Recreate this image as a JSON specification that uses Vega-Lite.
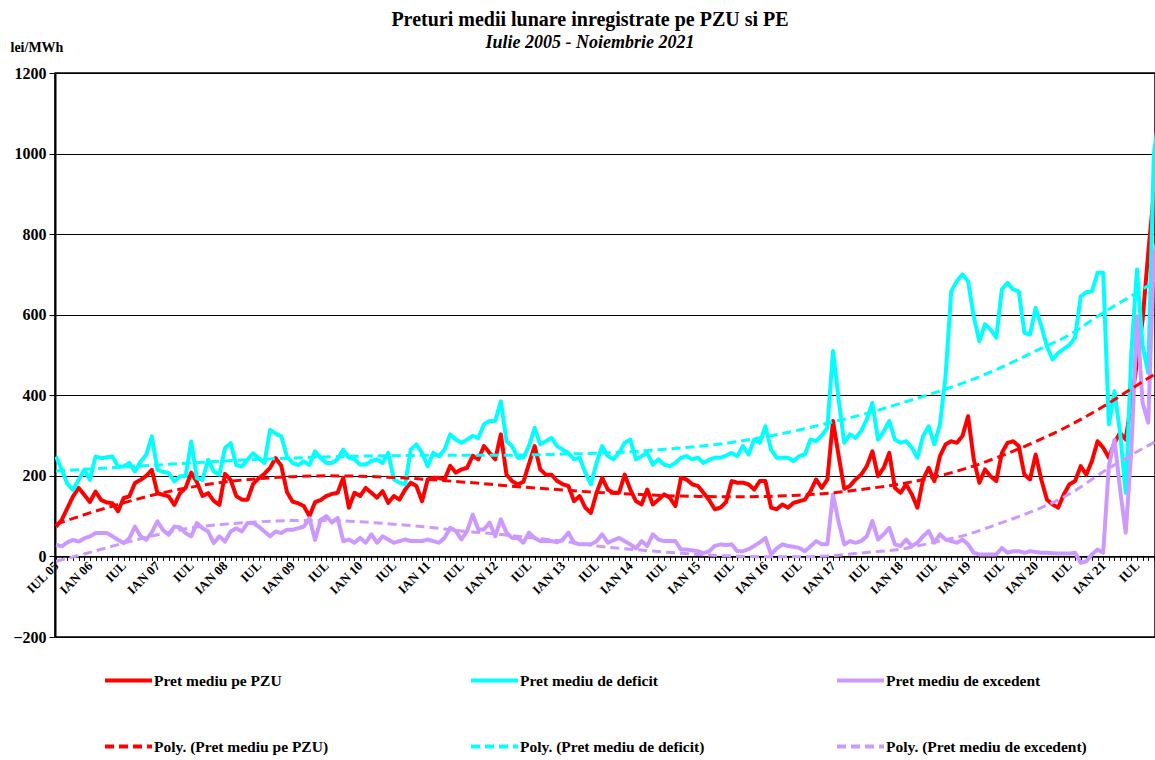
{
"$schema": "https://vega.github.io/schema/vega-lite/v6.json",
"width": 1100, "height": 564,
"autosize": {"type": "none"},
"padding": {"left": 55, "top": 73, "right": 0, "bottom": 123},
"background": "white",
"title": {"text": "Preturi medii lunare inregistrate pe PZU si PE", "subtitle": "Iulie 2005 - Noiembrie 2021", "font": "Liberation Serif", "fontSize": 20, "fontWeight": "bold", "color": "#000", "subtitleFont": "Liberation Serif", "subtitleFontSize": 18, "subtitleFontWeight": "bold", "subtitleFontStyle": "italic", "subtitleColor": "#000", "anchor": "middle", "frame": "group", "dx": -15, "offset": -12, "subtitlePadding": 4},
"datasets": {
"lunar": [
{"m":0,"a":74,"b":248,"c":29},{"m":1,"a":91,"b":215,"c":25},{"m":2,"a":120,"b":180,"c":35},{"m":3,"a":149,"b":165,"c":41},{"m":4,"a":170,"b":190,"c":37},{"m":5,"a":153,"b":215,"c":45},{"m":6,"a":135,"b":190,"c":50},{"m":7,"a":161,"b":248,"c":58},{"m":8,"a":140,"b":244,"c":58},{"m":9,"a":134,"b":246,"c":58},
{"m":10,"a":132,"b":248,"c":50},{"m":11,"a":112,"b":223,"c":41},{"m":12,"a":145,"b":223,"c":33},{"m":13,"a":149,"b":232,"c":45},{"m":14,"a":182,"b":211,"c":74},{"m":15,"a":190,"b":235,"c":50},{"m":16,"a":200,"b":252,"c":41},{"m":17,"a":215,"b":298,"c":60},{"m":18,"a":157,"b":215,"c":87},{"m":19,"a":153,"b":210,"c":65},
{"m":20,"a":149,"b":207,"c":54},{"m":21,"a":128,"b":186,"c":74},{"m":22,"a":157,"b":199,"c":72},{"m":23,"a":170,"b":199,"c":58},{"m":24,"a":208,"b":285,"c":50},{"m":25,"a":185,"b":194,"c":83},{"m":26,"a":150,"b":190,"c":70},{"m":27,"a":157,"b":240,"c":62},{"m":28,"a":138,"b":211,"c":33},{"m":29,"a":128,"b":203,"c":50},
{"m":30,"a":205,"b":269,"c":37},{"m":31,"a":190,"b":281,"c":62},{"m":32,"a":150,"b":227,"c":70},{"m":33,"a":141,"b":223,"c":62},{"m":34,"a":141,"b":240,"c":83},{"m":35,"a":180,"b":256,"c":83},{"m":36,"a":194,"b":244,"c":74},{"m":37,"a":205,"b":232,"c":62},{"m":38,"a":220,"b":314,"c":50},{"m":39,"a":244,"b":305,"c":62},
{"m":40,"a":225,"b":298,"c":58},{"m":41,"a":160,"b":248,"c":66},{"m":42,"a":136,"b":232,"c":66},{"m":43,"a":132,"b":227,"c":70},{"m":44,"a":125,"b":236,"c":74},{"m":45,"a":100,"b":227,"c":95},{"m":46,"a":135,"b":261,"c":41},{"m":47,"a":140,"b":244,"c":91},{"m":48,"a":150,"b":232,"c":100},{"m":49,"a":155,"b":232,"c":84},
{"m":50,"a":158,"b":241,"c":96},{"m":51,"a":195,"b":265,"c":38},{"m":52,"a":121,"b":245,"c":42},{"m":53,"a":158,"b":241,"c":34},{"m":54,"a":150,"b":228,"c":46},{"m":55,"a":170,"b":228,"c":34},{"m":56,"a":158,"b":237,"c":55},{"m":57,"a":146,"b":241,"c":34},{"m":58,"a":162,"b":232,"c":50},{"m":59,"a":133,"b":257,"c":42},
{"m":60,"a":150,"b":191,"c":34},{"m":61,"a":141,"b":183,"c":38},{"m":62,"a":166,"b":179,"c":42},{"m":63,"a":183,"b":265,"c":38},{"m":64,"a":175,"b":278,"c":38},{"m":65,"a":137,"b":257,"c":38},{"m":66,"a":191,"b":224,"c":42},{"m":67,"a":195,"b":257,"c":38},{"m":68,"a":195,"b":249,"c":34},{"m":69,"a":191,"b":265,"c":46},
{"m":70,"a":225,"b":303,"c":71},{"m":71,"a":208,"b":290,"c":63},{"m":72,"a":216,"b":282,"c":42},{"m":73,"a":220,"b":290,"c":63},{"m":74,"a":250,"b":299,"c":104},{"m":75,"a":241,"b":294,"c":67},{"m":76,"a":274,"b":328,"c":67},{"m":77,"a":257,"b":336,"c":84},{"m":78,"a":241,"b":336,"c":50},{"m":79,"a":303,"b":385,"c":92},
{"m":80,"a":203,"b":286,"c":59},{"m":81,"a":187,"b":274,"c":46},{"m":82,"a":179,"b":245,"c":46},{"m":83,"a":185,"b":245,"c":34},{"m":84,"a":230,"b":274,"c":59},{"m":85,"a":274,"b":319,"c":46},{"m":86,"a":216,"b":278,"c":38},{"m":87,"a":203,"b":286,"c":38},{"m":88,"a":203,"b":294,"c":38},{"m":89,"a":187,"b":274,"c":35},
{"m":90,"a":179,"b":265,"c":42},{"m":91,"a":175,"b":257,"c":59},{"m":92,"a":137,"b":241,"c":34},{"m":93,"a":150,"b":245,"c":30},{"m":94,"a":121,"b":208,"c":30},{"m":95,"a":108,"b":179,"c":30},{"m":96,"a":158,"b":232,"c":38},{"m":97,"a":195,"b":274,"c":55},{"m":98,"a":166,"b":249,"c":34},{"m":99,"a":158,"b":241,"c":40},
{"m":100,"a":158,"b":257,"c":46},{"m":101,"a":203,"b":282,"c":38},{"m":102,"a":166,"b":290,"c":30},{"m":103,"a":137,"b":241,"c":20},{"m":104,"a":129,"b":249,"c":38},{"m":105,"a":166,"b":257,"c":26},{"m":106,"a":129,"b":228,"c":55},{"m":107,"a":141,"b":241,"c":42},{"m":108,"a":154,"b":228,"c":38},{"m":109,"a":146,"b":224,"c":38},
{"m":110,"a":125,"b":232,"c":38},{"m":111,"a":195,"b":245,"c":17},{"m":112,"a":191,"b":249,"c":17},{"m":113,"a":179,"b":241,"c":15},{"m":114,"a":175,"b":245,"c":13},{"m":115,"a":158,"b":232,"c":8},{"m":116,"a":140,"b":240,"c":13},{"m":117,"a":117,"b":245,"c":26},{"m":118,"a":121,"b":245,"c":30},{"m":119,"a":135,"b":250,"c":28},
{"m":120,"a":187,"b":257,"c":30},{"m":121,"a":183,"b":249,"c":13},{"m":122,"a":183,"b":274,"c":13},{"m":123,"a":179,"b":253,"c":18},{"m":124,"a":166,"b":290,"c":26},{"m":125,"a":187,"b":282,"c":35},{"m":126,"a":187,"b":323,"c":46},{"m":127,"a":121,"b":265,"c":5},{"m":128,"a":117,"b":245,"c":20},{"m":129,"a":129,"b":245,"c":30},
{"m":130,"a":121,"b":245,"c":26},{"m":131,"a":133,"b":237,"c":24},{"m":132,"a":137,"b":249,"c":21},{"m":133,"a":141,"b":253,"c":13},{"m":134,"a":162,"b":290,"c":25},{"m":135,"a":191,"b":286,"c":38},{"m":136,"a":170,"b":300,"c":30},{"m":137,"a":191,"b":319,"c":30},{"m":138,"a":336,"b":510,"c":154},{"m":139,"a":250,"b":390,"c":85},
{"m":140,"a":168,"b":282,"c":30},{"m":141,"a":175,"b":303,"c":38},{"m":142,"a":191,"b":294,"c":34},{"m":143,"a":203,"b":311,"c":38},{"m":144,"a":224,"b":340,"c":50},{"m":145,"a":261,"b":381,"c":88},{"m":146,"a":199,"b":290,"c":42},{"m":147,"a":220,"b":310,"c":55},{"m":148,"a":257,"b":336,"c":71},{"m":149,"a":170,"b":290,"c":30},
{"m":150,"a":158,"b":282,"c":26},{"m":151,"a":179,"b":286,"c":42},{"m":152,"a":154,"b":270,"c":26},{"m":153,"a":121,"b":245,"c":34},{"m":154,"a":191,"b":299,"c":50},{"m":155,"a":220,"b":323,"c":63},{"m":156,"a":187,"b":278,"c":34},{"m":157,"a":249,"b":328,"c":55},{"m":158,"a":278,"b":447,"c":42},{"m":159,"a":286,"b":658,"c":38},
{"m":160,"a":282,"b":683,"c":34},{"m":161,"a":299,"b":700,"c":42},{"m":162,"a":348,"b":683,"c":30},{"m":163,"a":241,"b":596,"c":9},{"m":164,"a":183,"b":534,"c":5},{"m":165,"a":216,"b":576,"c":5},{"m":166,"a":199,"b":563,"c":5},{"m":167,"a":187,"b":543,"c":5},{"m":168,"a":257,"b":663,"c":21},{"m":169,"a":282,"b":679,"c":9},
{"m":170,"a":286,"b":663,"c":13},{"m":171,"a":274,"b":658,"c":13},{"m":172,"a":203,"b":555,"c":9},{"m":173,"a":191,"b":551,"c":13},{"m":174,"a":253,"b":617,"c":11},{"m":175,"a":191,"b":572,"c":9},{"m":176,"a":141,"b":522,"c":9},{"m":177,"a":129,"b":489,"c":8},{"m":178,"a":121,"b":505,"c":7},{"m":179,"a":154,"b":515,"c":7},
{"m":180,"a":179,"b":525,"c":7},{"m":181,"a":187,"b":543,"c":9},{"m":182,"a":224,"b":645,"c":-16},{"m":183,"a":203,"b":656,"c":-12},{"m":184,"a":237,"b":658,"c":5},{"m":185,"a":286,"b":704,"c":17},{"m":186,"a":270,"b":704,"c":9},{"m":187,"a":245,"b":328,"c":224},{"m":188,"a":282,"b":410,"c":290},{"m":189,"a":307,"b":307,"c":166},
{"m":190,"a":290,"b":158,"c":59},{"m":191,"a":385,"b":505,"c":265},{"m":192,"a":481,"b":712,"c":596},{"m":193,"a":588,"b":522,"c":381},{"m":194,"a":754,"b":456,"c":332},{"m":195,"a":902,"b":1000,"c":750},{"m":196,"a":950,"b":1100,"c":800}
],
"trend": [
{"m":0,"d":80,"e":212,"f":-12},{"m":6,"d":108,"e":217,"f":10},{"m":12,"d":133,"e":222,"f":33},{"m":18,"d":155,"e":227,"f":54},{"m":24,"d":172,"e":232,"f":71},{"m":30,"d":185,"e":237,"f":80},{"m":36,"d":193,"e":241,"f":86},{"m":42,"d":198,"e":244,"f":89},{"m":48,"d":200,"e":247,"f":89},{"m":54,"d":199,"e":249,"f":86},
{"m":60,"d":196,"e":250,"f":80},{"m":66,"d":191,"e":251,"f":73},{"m":72,"d":185,"e":251,"f":63},{"m":78,"d":178,"e":251,"f":56},{"m":84,"d":171,"e":252,"f":47},{"m":90,"d":165,"e":254,"f":38},{"m":96,"d":159,"e":256,"f":26},{"m":102,"d":155,"e":260,"f":18},{"m":108,"d":151,"e":266,"f":11},{"m":114,"d":149,"e":273,"f":5},
{"m":120,"d":148,"e":283,"f":1},{"m":126,"d":149,"e":297,"f":-1},{"m":132,"d":152,"e":314,"f":-1},{"m":138,"d":158,"e":334,"f":2},{"m":144,"d":168,"e":355,"f":10},{"m":150,"d":180,"e":380,"f":18},{"m":156,"d":197,"e":406,"f":35},{"m":162,"d":220,"e":435,"f":55},{"m":168,"d":250,"e":470,"f":84},{"m":174,"d":285,"e":510,"f":115},
{"m":180,"d":325,"e":550,"f":155},{"m":186,"d":372,"e":605,"f":210},{"m":192,"d":425,"e":655,"f":260},{"m":196,"d":460,"e":690,"f":290}
]
},
"encoding": {
"x": {"field": "m", "type": "quantitative", "scale": {"domain": [-0.2, 195.2], "nice": false, "zero": false},
 "axis": {"orient": "bottom", "offset": -80.6, "title": null, "grid": false,
  "values": [0,1,2,3,4,5,6,7,8,9,10,11,12,13,14,15,16,17,18,19,20,21,22,23,24,25,26,27,28,29,30,31,32,33,34,35,36,37,38,39,40,41,42,43,44,45,46,47,48,49,50,51,52,53,54,55,56,57,58,59,60,61,62,63,64,65,66,67,68,69,70,71,72,73,74,75,76,77,78,79,80,81,82,83,84,85,86,87,88,89,90,91,92,93,94,95,96,97,98,99,100,101,102,103,104,105,106,107,108,109,110,111,112,113,114,115,116,117,118,119,120,121,122,123,124,125,126,127,128,129,130,131,132,133,134,135,136,137,138,139,140,141,142,143,144,145,146,147,148,149,150,151,152,153,154,155,156,157,158,159,160,161,162,163,164,165,166,167,168,169,170,171,172,173,174,175,176,177,178,179,180,181,182,183,184,185,186,187,188,189,190,191,192,193,194,195],
  "labelExpr": "datum.value % 6 != 0 ? '' : (datum.value == 0 ? 'IUL 05' : (datum.value % 12 == 0 ? 'IUL' : 'IAN ' + (datum.value < 54 ? '0' : '') + (6 + (datum.value - 6) / 12)))",
  "labelAngle": -45, "labelAlign": "right", "labelBaseline": "middle", "labelOverlap": false, "labelFlush": false, "labelPadding": 3,
  "labelFont": "Liberation Serif", "labelFontWeight": "bold", "labelFontSize": 13, "labelColor": "#000",
  "tickSize": 4, "tickColor": "#000", "tickWidth": 1, "domainColor": "#000", "domainWidth": 1.5}},
"y": {"field": "v", "type": "quantitative", "scale": {"domain": [-200, 1200], "nice": false},
 "axis": {"values": [-200,0,200,400,600,800,1000,1200], "format": "d", "grid": true, "gridColor": "#000", "gridWidth": 1, "gridOpacity": 1,
  "domainColor": "#000", "domainWidth": 2, "tickColor": "#000", "tickSize": 6, "labelPadding": 3,
  "labelFont": "Liberation Serif", "labelFontWeight": "bold", "labelFontSize": 16, "labelColor": "#000",
  "title": "lei/MWh", "titleAngle": 0, "titleX": -45, "titleY": -22, "titleAlign": "left", "titleBaseline": "alphabetic",
  "titleFont": "Liberation Serif", "titleFontSize": 14, "titleFontWeight": "bold", "titleColor": "#000"}},
"color": {"field": "k", "type": "nominal",
 "scale": {"domain": ["a","b","c","d","e","f"], "range": ["#FF0000","#00FFFF","#CC99FF","#FF0000","#00FFFF","#CC99FF"]},
 "legend": {"title": null, "orient": "none", "legendX": 48, "legendY": 582, "direction": "horizontal", "columns": 3, "gridAlign": "all", "columnPadding": 108, "rowPadding": 32, "padding": 0,
  "symbolType": "stroke", "symbolSize": 2209, "symbolStrokeWidth": 4, "labelFont": "Liberation Serif", "labelFontSize": 15.5, "labelFontWeight": "bold", "labelColor": "#000", "labelOffset": 0, "labelLimit": 400,
  "labelExpr": "datum.label == 'a' ? 'Pret mediu pe PZU' : datum.label == 'b' ? 'Pret mediu de deficit' : datum.label == 'c' ? 'Pret mediu de excedent' : datum.label == 'd' ? 'Poly. (Pret mediu pe PZU)' : datum.label == 'e' ? 'Poly. (Pret mediu de deficit)' : 'Poly. (Pret mediu de excedent)'"}},
"strokeDash": {"field": "k", "type": "nominal",
 "scale": {"domain": ["a","b","c","d","e","f"], "range": [[1,0],[1,0],[1,0],[9,5],[9,5],[9,5]]},
 "legend": {"title": null, "orient": "none", "legendX": 48, "legendY": 582, "direction": "horizontal", "columns": 3, "gridAlign": "all", "columnPadding": 108, "rowPadding": 32, "padding": 0,
  "symbolType": "stroke", "symbolSize": 2209, "symbolStrokeWidth": 4, "labelFont": "Liberation Serif", "labelFontSize": 15.5, "labelFontWeight": "bold", "labelColor": "#000", "labelOffset": 0, "labelLimit": 400,
  "labelExpr": "datum.label == 'a' ? 'Pret mediu pe PZU' : datum.label == 'b' ? 'Pret mediu de deficit' : datum.label == 'c' ? 'Pret mediu de excedent' : datum.label == 'd' ? 'Poly. (Pret mediu pe PZU)' : datum.label == 'e' ? 'Poly. (Pret mediu de deficit)' : 'Poly. (Pret mediu de excedent)'"}}
},
"layer": [
{"data": {"name": "lunar"}, "transform": [{"fold": ["a","b","c"], "as": ["k","v"]}],
 "mark": {"type": "line", "strokeWidth": 4, "clip": true, "strokeJoin": "round"}},
{"data": {"name": "trend"}, "transform": [{"fold": ["d","e","f"], "as": ["k","v"]}],
 "mark": {"type": "line", "strokeWidth": 3, "clip": true, "interpolate": "monotone"}}
],
"config": {"view": {"stroke": "#000", "strokeWidth": 1.5}, "font": "Liberation Serif"}
}
